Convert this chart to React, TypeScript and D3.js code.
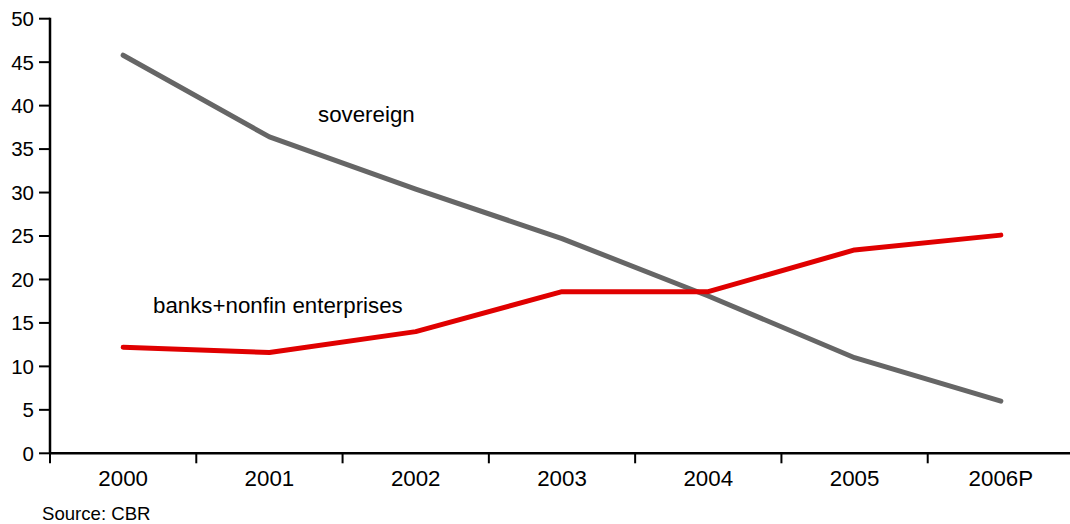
import React from "react";
import * as d3 from "d3";

const categories = ["2000", "2001", "2002", "2003", "2004", "2005", "2006P"];
const sovereign = [45.8, 36.4, 30.4, 24.7, 18.1, 11.0, 6.0];
const banks = [12.2, 11.6, 14.0, 18.6, 18.6, 23.4, 25.1];
const yTicks = [0, 5, 10, 15, 20, 25, 30, 35, 40, 45, 50];

const W = 1070;
const H = 524;
const left = 50;
const right = 1074;
const top = 18.7;
const bottom = 453.3;
const font = "'Liberation Sans', Arial, sans-serif";
const fs = 22.3;

export default function App() {
  const x = d3.scaleBand<string>().domain(categories).range([left, right]);
  const y = d3.scaleLinear().domain([0, 50]).range([bottom, top]);
  const line = d3
    .line<number>()
    .x((_, i) => (x(categories[i]) as number) + x.bandwidth() / 2)
    .y((d) => y(d));
  const tickXs = categories.map((c) => x(c) as number).concat([right]);

  return (
    <svg width={W} height={H} style={{ position: "absolute", left: 0, top: 0 }}>
      <rect width={W} height={H} fill="#fff" />
      <line x1={left} x2={left} y1={top - 1} y2={bottom} stroke="#000" strokeWidth={2.5} />
      {yTicks.map((t) => (
        <g key={t}>
          <line x1={left - 11} x2={left} y1={y(t)} y2={y(t)} stroke="#000" strokeWidth={2} />
          <text x={left - 16} y={y(t)} dy="0.36em" textAnchor="end" fontSize={20.5} fontFamily={font} fill="#000">
            {t}
          </text>
        </g>
      ))}
      <line x1={left} x2={right} y1={bottom} y2={bottom} stroke="#000" strokeWidth={2.5} />
      {tickXs.map((tx, i) => (
        <line key={i} x1={tx} x2={tx} y1={bottom} y2={bottom + 10} stroke="#000" strokeWidth={2} />
      ))}
      {categories.map((c) => (
        <text
          key={c}
          x={(x(c) as number) + x.bandwidth() / 2}
          y={486}
          textAnchor="middle"
          fontSize={fs}
          fontFamily={font}
          fill="#000"
        >
          {c}
        </text>
      ))}
      <path d={line(sovereign) || ""} fill="none" stroke="#666666" strokeWidth={5} strokeLinejoin="round" strokeLinecap="round" />
      <path d={line(banks) || ""} fill="none" stroke="#e00000" strokeWidth={5} strokeLinejoin="round" strokeLinecap="round" />
      <text x={318} y={122} fontSize={fs} fontFamily={font} fill="#000">
        sovereign
      </text>
      <text x={153} y={313} fontSize={fs} fontFamily={font} fill="#000">
        banks+nonfin enterprises
      </text>
      <text x={42} y={520} fontSize={18.6} fontFamily={font} fill="#000">
        Source: CBR
      </text>
    </svg>
  );
}
